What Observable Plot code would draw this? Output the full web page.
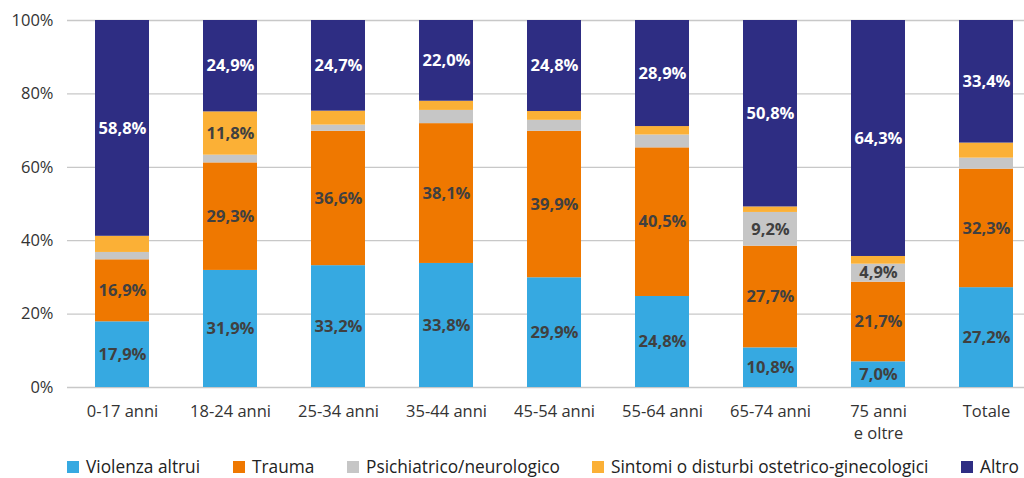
<!DOCTYPE html>
<html>
<head>
<meta charset="utf-8">
<script src="https://cdn.jsdelivr.net/npm/d3@7"></script>
<script src="https://cdn.jsdelivr.net/npm/@observablehq/plot@0.6"></script>
<style>
  html, body { margin: 0; padding: 0; background: #fff; }
  body { width: 1024px; height: 478px; overflow: hidden; font-family: "Open Sans", sans-serif; color: #333; }
  #legend { position: relative; width: 1024px; height: 30px; }
  .item { position: absolute; top: 9px; height: 20px; display: flex; align-items: center; font-size: 17.3px; line-height: 20px; color: #222; white-space: nowrap; }
  .sw { width: 12px; height: 12px; margin-right: 7px; flex: none; }
</style>
</head>
<body>
<div id="chart"></div>
<div id="legend"></div>
<script>
const categories = ["0-17 anni","18-24 anni","25-34 anni","35-44 anni","45-54 anni","55-64 anni","65-74 anni","75 anni e oltre","Totale"];
const tickLabels = ["0-17 anni","18-24 anni","25-34 anni","35-44 anni","45-54 anni","55-64 anni","65-74 anni","75 anni\ne oltre","Totale"];
const series = ["Violenza altrui","Trauma","Psichiatrico/neurologico","Sintomi o disturbi ostetrico-ginecologici","Altro"];
const colors = ["#36a9e1","#ef7800","#c6c6c6","#fbb036","#2e2d83"];
const violenza = [17.9,31.9,33.2,33.8,29.9,24.8,10.8,7.0,27.2];
const trauma   = [16.9,29.3,36.6,38.1,39.9,40.5,27.7,21.7,32.3];
const psich    = [2.0,2.1,1.7,3.6,3.0,3.5,9.2,4.9,3.0];
const sintomi  = [4.4,11.8,3.8,2.5,2.4,2.3,1.5,2.1,4.1];
const altro    = [58.8,24.9,24.7,22.0,24.8,28.9,50.8,64.3,33.4];
const yTicks = [0,20,40,60,80,100];
const legendX = [67,233,347,592,961];

const seriesValues = [violenza, trauma, psich, sintomi, altro];
const rows = [];
categories.forEach((c, i) => {
  let acc = 0;
  seriesValues.forEach((vals, s) => {
    const v = vals[i];
    rows.push({cat: c, series: series[s], value: v, y1: acc, y2: acc + v});
    acc += v;
  });
});
const fmt = v => v.toFixed(1).replace(".", ",") + "%";
const labelMap = Object.fromEntries(categories.map((c, i) => [c, tickLabels[i]]));
const shown = rows.filter(r => r.value >= 4.5);

const chart = Plot.plot({
  width: 1024, height: 448,
  marginLeft: 67, marginRight: 0, marginTop: 20, marginBottom: 61,
  style: {fontFamily: "'Open Sans', sans-serif", fontSize: "16.5px", color: "#333", background: "white"},
  x: {type: "band", domain: categories, range: [67, 1041], paddingInner: 0.5, paddingOuter: 0.25, align: 0.5, label: null},
  y: {domain: [0, 100], label: null},
  color: {domain: series, range: colors},
  marks: [
    Plot.ruleY(yTicks, {stroke: "#c8c8c8", strokeWidth: 1.3}),
    Plot.barY(rows, {x: "cat", y1: "y1", y2: "y2", fill: "series"}),
    Plot.text(shown.filter(r => r.series !== "Altro"), {x: "cat", y: r => (r.y1 + r.y2) / 2, text: r => fmt(r.value), fill: "#404040", fontWeight: "bold", fontSize: 16.5}),
    Plot.text(shown.filter(r => r.series === "Altro"), {x: "cat", y: r => (r.y1 + r.y2) / 2, text: r => fmt(r.value), fill: "white", fontWeight: "bold", fontSize: 16.5}),
    Plot.axisY({ticks: yTicks, tickFormat: d => d + "%", tickSize: 0, tickPadding: 14, fontSize: 16.5, label: null}),
    Plot.axisX({tickSize: 0, tickPadding: 14, tickFormat: d => labelMap[d], lineHeight: 1.33, fontSize: 16.5, label: null})
  ]
});
document.getElementById("chart").appendChild(chart);

const legend = document.getElementById("legend");
series.forEach((s, i) => {
  const it = document.createElement("div");
  it.className = "item";
  it.style.left = legendX[i] + "px";
  it.innerHTML = `<span class="sw" style="background:${colors[i]}"></span><span class="lbl">${s}</span>`;
  legend.appendChild(it);
});
</script>
</body>
</html>
